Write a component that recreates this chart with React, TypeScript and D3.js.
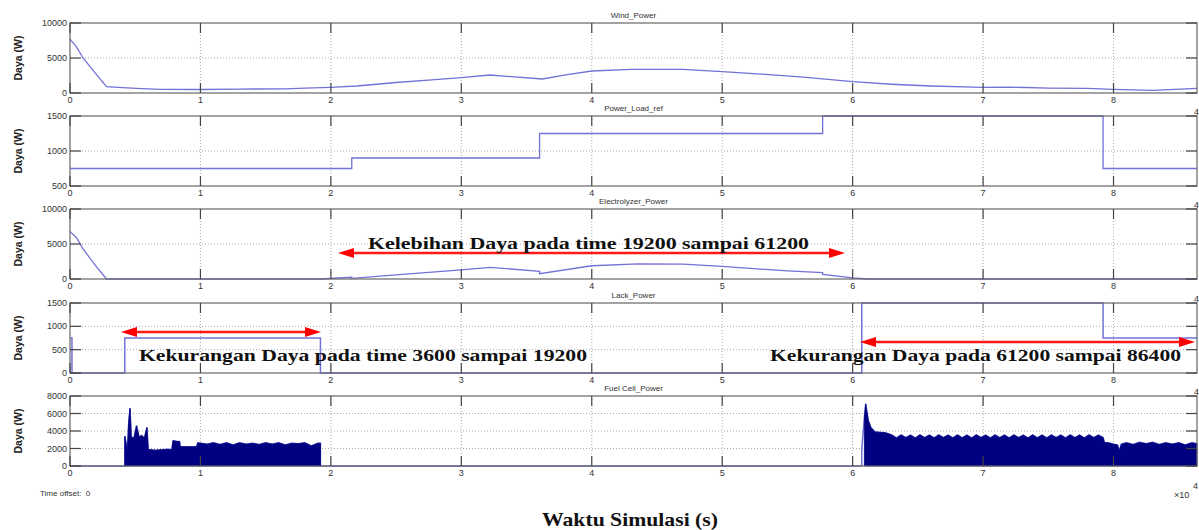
import React from 'react';
import * as d3 from 'd3';

// time axis (seconds), labelled in units of 10^4
const xTickValues = [0, 1, 2, 3, 4, 5, 6, 7, 8];

const panelTitles = ['Wind_Power', 'Power_Load_ref', 'Electrolyzer_Power', 'Lack_Power', 'Fuel Cell_Power'];
const panelDomains: [number, number][] = [[0, 10000], [500, 1500], [0, 10000], [0, 1500], [0, 8000]];
const panelTicks = [
  [0, 5000, 10000],
  [500, 1000, 1500],
  [0, 5000, 10000],
  [0, 500, 1000, 1500],
  [0, 2000, 4000, 6000, 8000],
];

const windTime = [0, 500, 1000, 2000, 2800, 4000, 5500, 7000, 10000, 13000, 16500, 18000, 20000, 22000, 25000, 28000, 30000, 32200, 36200, 38000, 40000, 43000, 47000, 50000, 53000, 56000, 60000, 63000, 66000, 70000, 72000, 75000, 78000, 80000, 83000, 86400];
const windPower = [7700, 6600, 5000, 2700, 900, 780, 620, 520, 500, 560, 600, 700, 810, 1000, 1500, 1900, 2190, 2570, 2000, 2600, 3140, 3380, 3380, 3040, 2700, 2300, 1620, 1250, 1000, 810, 850, 700, 650, 520, 380, 670];

const loadTime = [0, 21600, 36000, 57700, 79200, 86400];
const loadPower = [750, 900, 1250, 1500, 750, 750];

const elecTime = [0, 500, 1000, 2000, 2800, 19200, 21600, 21600, 25000, 30000, 32200, 36000, 36000, 40000, 43600, 47000, 50000, 55000, 57700, 57700, 60000, 61200, 86400];
const elecPower = [6800, 5900, 4300, 1800, 0, 0, 250, 100, 600, 1290, 1670, 1100, 750, 1890, 2150, 2130, 1790, 1150, 900, 650, 150, 0, 0];

const lackTime = [0, 150, 4200, 19200, 60700, 79200, 86400];
const lackPower = [750, 0, 750, 0, 1500, 750, 750];

const fuelTime = [
  0, 4200, 4200, 4400, 4500, 4600, 4700, 4900, 5100, 5300, 5500, 5700, 5900, 6000, 6500, 7000, 7500, 7800, 7900, 8200,
  8400, 8450, 9000, 9700, 9800, 10500, 11000, 11500, 12000, 12500, 13000, 13500, 14000, 14500, 15000, 15500, 16000,
  16500, 17000, 17500, 18000, 18500, 19000, 19200, 19200, 60700, 60700, 60900, 61000, 61200, 61400, 61700, 62500,
  63000, 63360, 63720, 64080, 64440, 64800, 65160, 65520, 65880, 66240, 66600, 66960, 67320, 67680, 68040, 68400,
  68760, 69120, 69480, 69840, 70200, 70560, 70920, 71280, 71640, 72000, 72360, 72720, 73080, 73440, 73800, 74160,
  74520, 74880, 75240, 75600, 75960, 76320, 76680, 77040, 77400, 77760, 78120, 78480, 78840, 79200,
  79300, 79600, 80000, 80300, 80450, 80600, 81000, 81500, 82000, 82500, 83000, 83500, 84000, 84500, 85000, 85500, 86000, 86400,
];
const fuelPower = [
  0, 0, 3400, 1800, 5000, 6600, 3300, 3200, 4600, 3300, 3500, 3200, 4400, 1900, 1800, 1850, 1900, 1850, 2900, 2800,
  2800, 2200, 2200, 2200, 2650, 2500, 2650, 2450, 2650, 2400, 2650, 2500, 2600, 2450, 2650, 2500, 2650,
  2400, 2600, 2550, 2650, 2300, 2600, 2600, 0, 0, 2000, 5500, 7100, 5200, 4400, 3900, 3800,
  3550, 3200, 3550, 3250, 3520, 3200, 3560, 3230, 3540, 3200, 3550, 3250, 3530, 3200, 3550, 3220,
  3540, 3200, 3560, 3250, 3530, 3200, 3550, 3230, 3540, 3200, 3550, 3250, 3520, 3200, 3560, 3220,
  3540, 3200, 3550, 3250, 3530, 3200, 3550, 3230, 3540, 3200, 3550, 3250, 3520, 3250,
  2700, 2650, 2500, 2400, 1750, 2500, 2650, 2450, 2700, 2550, 2700, 2450, 2650, 2500, 2650, 2400, 2650, 2550,
];

const W = 1199;
const H = 530;
const left = 70;
const right = 1197;
const panelTops = [23, 116, 209, 303, 396];
const panelH = 70;
const lineColor = '#7272d8';
const sans = '"Liberation Sans", Arial, sans-serif';
const serif = '"Liberation Serif", "Times New Roman", serif';

const x = d3.scaleLinear().domain([0, 86400]).range([left, right]);

const zip = (t: number[], v: number[]) => t.map((d, i) => [d, v[i]] as [number, number]);

const Panel: React.FC<{ i: number }> = ({ i }) => {
  const top = panelTops[i];
  const bottom = top + panelH;
  const y = d3.scaleLinear().domain(panelDomains[i]).range([bottom, top]);
  const line = d3.line<[number, number]>().x((d) => x(d[0])).y((d) => y(d[1]));
  const stepLine = d3.line<[number, number]>().x((d) => x(d[0])).y((d) => y(d[1])).curve(d3.curveStepAfter);

  let content: React.ReactNode = null;
  if (i === 0) content = <path d={line(zip(windTime, windPower)) || ''} fill="none" stroke={lineColor} strokeWidth={1.3} />;
  if (i === 1) content = <path d={stepLine(zip(loadTime, loadPower)) || ''} fill="none" stroke={lineColor} strokeWidth={1.3} />;
  if (i === 2) content = <path d={line(zip(elecTime, elecPower)) || ''} fill="none" stroke={lineColor} strokeWidth={1.3} />;
  if (i === 3) content = <path d={stepLine(zip(lackTime, lackPower)) || ''} fill="none" stroke={lineColor} strokeWidth={1.5} />;
  if (i === 4) {
    const pts = zip(fuelTime, fuelPower);
    const area = d3.area<[number, number]>().x((d) => x(d[0])).y0(y(0)).y1((d) => y(d[1]));
    content = (
      <g>
        <path d={line(pts) || ''} fill="none" stroke={lineColor} strokeWidth={1.5} />
        <path d={area(pts.filter((d, k) => k > 1 && k < 44)) || ''} fill="#000080" stroke="#000080" strokeWidth={0.8} />
        <path d={area(pts.filter((d, k) => k > 46)) || ''} fill="#000080" stroke="#000080" strokeWidth={0.8} />
      </g>
    );
  }

  return (
    <g>
      <defs>
        <clipPath id={`clip${i}`}>
          <rect x={left - 1} y={top - 1} width={right - left + 2} height={panelH + 2} />
        </clipPath>
      </defs>
      <rect x={left} y={top} width={right - left} height={panelH} fill="#fff" />
      {/* grid */}
      {xTickValues.slice(1).map((t) => (
        <line key={`gx${t}`} x1={x(t * 10000)} x2={x(t * 10000)} y1={top} y2={bottom} stroke="#aaa" strokeDasharray="1,2" />
      ))}
      {panelTicks[i].slice(1, -1).map((v) => (
        <line key={`gy${v}`} x1={left} x2={right} y1={y(v)} y2={y(v)} stroke="#aaa" strokeDasharray="1,2" />
      ))}
      <g clipPath={`url(#clip${i})`}>{content}</g>
      <rect x={left} y={top} width={right - left} height={panelH} fill="none" stroke="#666" strokeWidth={1.2} />
      {/* ticks */}
      {xTickValues.map((t) => (
        <g key={`tx${t}`}>
          <line x1={x(t * 10000)} x2={x(t * 10000)} y1={top} y2={top + 10} stroke="#444" strokeWidth={1.2} />
          <line x1={x(t * 10000)} x2={x(t * 10000)} y1={bottom} y2={bottom - 10} stroke="#444" strokeWidth={1.2} />
          <text x={x(t * 10000)} y={bottom + 10} fontSize={9} fill="#333" textAnchor="middle" fontFamily={sans}>
            {t}
          </text>
        </g>
      ))}
      {panelTicks[i].map((v) => (
        <g key={`ty${v}`}>
          <line x1={left} x2={left + 11} y1={y(v)} y2={y(v)} stroke="#444" strokeWidth={1.2} />
          <line x1={right} x2={right - 11} y1={y(v)} y2={y(v)} stroke="#444" strokeWidth={1.2} />
          <text x={left - 3} y={y(v) + 3} fontSize={9} fill="#333" textAnchor="end" fontFamily={sans}>
            {v}
          </text>
        </g>
      ))}
      <text x={(left + right) / 2} y={top - 5} fontSize={8} fill="#333" textAnchor="middle" fontFamily={sans}>
        {panelTitles[i]}
      </text>
      {i > 0 && (
        <text x={1194} y={top - 1} fontSize={9} fill="#333" fontFamily={sans}>
          4
        </text>
      )}
      <text
        transform={`translate(22, ${top + panelH / 2}) rotate(-90)`}
        fontSize={10.5}
        fontWeight="bold"
        fill="#222"
        textAnchor="middle"
        fontFamily={sans}
      >
        Daya (W)
      </text>
    </g>
  );
};

const Arrow: React.FC<{ x1: number; x2: number; y: number }> = ({ x1, x2, y }) => {
  const len = 16;
  const hw = 5;
  return (
    <g fill="#ff0000" stroke="none">
      <line x1={x1 + len - 2} x2={x2 - len + 2} y1={y} y2={y} stroke="#ff1a1a" strokeWidth={2.4} />
      <polygon points={`${x1},${y} ${x1 + len},${y - hw} ${x1 + len},${y + hw}`} />
      <polygon points={`${x2},${y} ${x2 - len},${y - hw} ${x2 - len},${y + hw}`} />
    </g>
  );
};

const annotationStyle = { fontFamily: serif, fontWeight: 'bold' as const, fontSize: 17, fill: '#111' };

const App: React.FC = () => {
  return (
    <div style={{ position: 'absolute', left: 0, top: 0 }}>
      <svg width={W} height={H} style={{ display: 'block', background: '#fff' }}>
        {panelTitles.map((_, i) => (
          <Panel key={i} i={i} />
        ))}

        {/* annotations */}
        <Arrow x1={338} x2={845} y={253} />
        <text x={368} y={249} textLength={441} lengthAdjust="spacingAndGlyphs" {...annotationStyle}>
          Kelebihan Daya pada time 19200 sampai 61200
        </text>

        <Arrow x1={121} x2={321} y={332} />
        <text x={139} y={361} textLength={448} lengthAdjust="spacingAndGlyphs" {...annotationStyle}>
          Kekurangan Daya pada time 3600 sampai 19200
        </text>

        <Arrow x1={860} x2={1195} y={342} />
        <text x={770} y={361} textLength={411} lengthAdjust="spacingAndGlyphs" {...annotationStyle}>
          Kekurangan Daya pada 61200 sampai 86400
        </text>

        <text x={40} y={496} fontSize={8} fill="#333" fontFamily={sans}>
          Time offset:&#160;&#160;0
        </text>
        <text x={1174} y={498} fontSize={9} fill="#333" fontFamily={sans}>
          ×10
        </text>
        <text x={1193} y={489} fontSize={9} fill="#333" fontFamily={sans}>
          4
        </text>

        <text
          x={630}
          y={526}
          textAnchor="middle"
          textLength={176}
          lengthAdjust="spacingAndGlyphs"
          fontFamily={serif}
          fontWeight="bold"
          fontSize={19}
          fill="#111"
        >
          Waktu Simulasi (s)
        </text>
      </svg>
    </div>
  );
};

export default App;
